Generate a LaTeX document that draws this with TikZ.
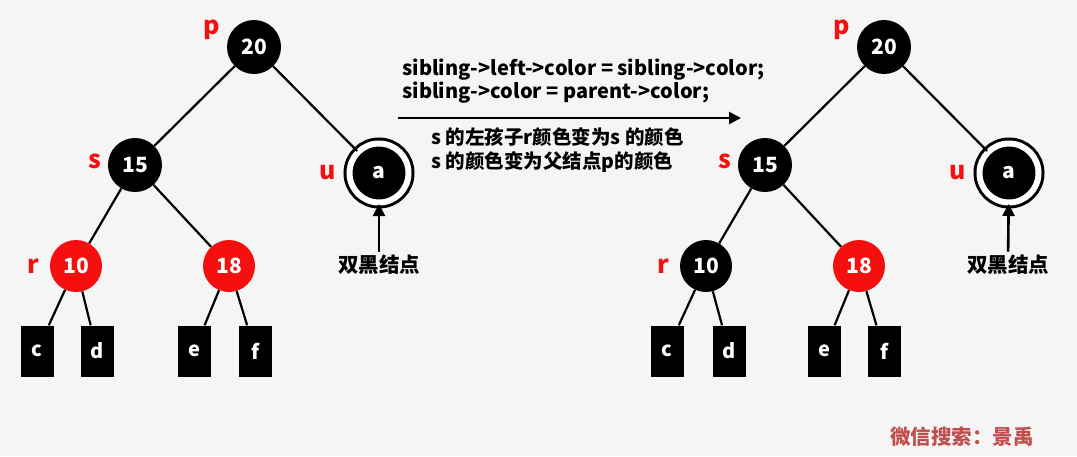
\documentclass[tikz,border=0pt]{standalone}
\usepackage{fontspec}
\setmainfont{Noto Sans CJK SC}
\usetikzlibrary{arrows.meta}
\definecolor{bgcol}{HTML}{F5F5F5}
\definecolor{rbred}{HTML}{F50F0F}
\definecolor{wmark}{HTML}{C0504D}

\begin{document}
\begin{tikzpicture}[
  x=1pt, y=-1pt,
  blk/.style={circle, fill=black, text=white, minimum size=54pt, inner sep=0pt, font=\bfseries\fontsize{21}{21}\selectfont},
  rd/.style={circle, fill=rbred, text=white, minimum size=52pt, inner sep=0pt, font=\bfseries\fontsize{21}{21}\selectfont},
  dbl/.style={circle, fill=black, text=white, minimum size=59pt, inner sep=0pt, draw=black, line width=3pt, double=white, double distance=6pt, font=\bfseries\fontsize{21}{21}\selectfont},
  leaf/.style={fill=black, text=white, minimum width=33pt, minimum height=51pt, inner sep=0pt, font=\bfseries\fontsize{20}{20}\selectfont},
  lab/.style={text=rbred, font=\bfseries\fontsize{25}{25}\selectfont},
  note/.style={font=\bfseries\fontsize{20}{23}\selectfont, align=left, anchor=west},
  dbtxt/.style={font=\bfseries\fontsize{20.5}{20.5}\selectfont},
  edge/.style={line width=2.2pt},
  arr/.style={-{Triangle[length=12pt, width=12pt]}, line width=2.6pt}
]
\fill[bgcol] (0,0) rectangle (1077,456);
\useasboundingbox (0,0) rectangle (1077,456);

% left tree
\node[blk] (Lp) at (254,47) {20};
\node[blk] (Ls) at (135,165) {15};
\node[dbl] (Lu) at (379,173) {a};
\node[rd] (Lr) at (76,266) {10};
\node[rd] (L18) at (229,266) {18};
\node[leaf] (Lc) at (37,351) {c};
\node[leaf] (Ld) at (97,351) {d};
\node[leaf] (Le) at (194,351) {e};
\node[leaf] (Lf) at (255,351) {f};
\node[lab] at (212,30) {p};
\node[lab] at (95,161) {s};
\node[lab] at (328,173) {u};
\node[lab] at (33,266) {r};
\node[dbtxt] (Ldb) at (379,265) {双黑结点};
\draw[edge] (Lp) -- (Ls);
\draw[edge] (Lp) -- (Lu);
\draw[edge] (Ls) -- (Lr);
\draw[edge] (Ls) -- (L18);
\draw[edge] (Lr) -- (Lc);
\draw[edge] (Lr) -- (Ld);
\draw[edge] (L18) -- (Le);
\draw[edge] (L18) -- (Lf);
\draw[arr] (Ldb) -- (Lu);

% middle
\node[note] (code) at (399,81) {sibling->left->color = sibling->color;\\sibling->color = parent->color;};
\node[note, font=\bfseries\fontsize{19.5}{24}\selectfont] (desc) at (428,150) {s 的左孩子r颜色变为s 的颜色\\s 的颜色变为父结点p的颜色};
\coordinate (a0) at (398,118);
\coordinate (a1) at (741,118);
\draw[arr] (a0) -- (a1);

% right tree
\node[blk] (Rp) at (884,47) {20};
\node[blk] (Rs) at (765,165) {15};
\node[dbl] (Ru) at (1009,173) {a};
\node[blk, minimum size=52pt] (Rr) at (706,266) {10};
\node[rd] (R18) at (859,266) {18};
\node[leaf] (Rc) at (667,351) {c};
\node[leaf] (Rd) at (729,351) {d};
\node[leaf] (Re) at (824,351) {e};
\node[leaf] (Rf) at (884,351) {f};
\node[lab] at (842,30) {p};
\node[lab] at (725,161) {s};
\node[lab] at (958,173) {u};
\node[lab] at (663,266) {r};
\node[dbtxt] (Rdb) at (1008,265) {双黑结点};
\draw[edge] (Rp) -- (Rs);
\draw[edge] (Rp) -- (Ru);
\draw[edge] (Rs) -- (Rr);
\draw[edge] (Rs) -- (R18);
\draw[edge] (Rr) -- (Rc);
\draw[edge] (Rr) -- (Rd);
\draw[edge] (R18) -- (Re);
\draw[edge] (R18) -- (Rf);
\draw[arr] (Rdb) -- (Ru);

\node[text=wmark, font=\bfseries\fontsize{20.5}{20.5}\selectfont] (wm) at (962,437) {微信搜索：景禹};
\end{tikzpicture}
\end{document}
